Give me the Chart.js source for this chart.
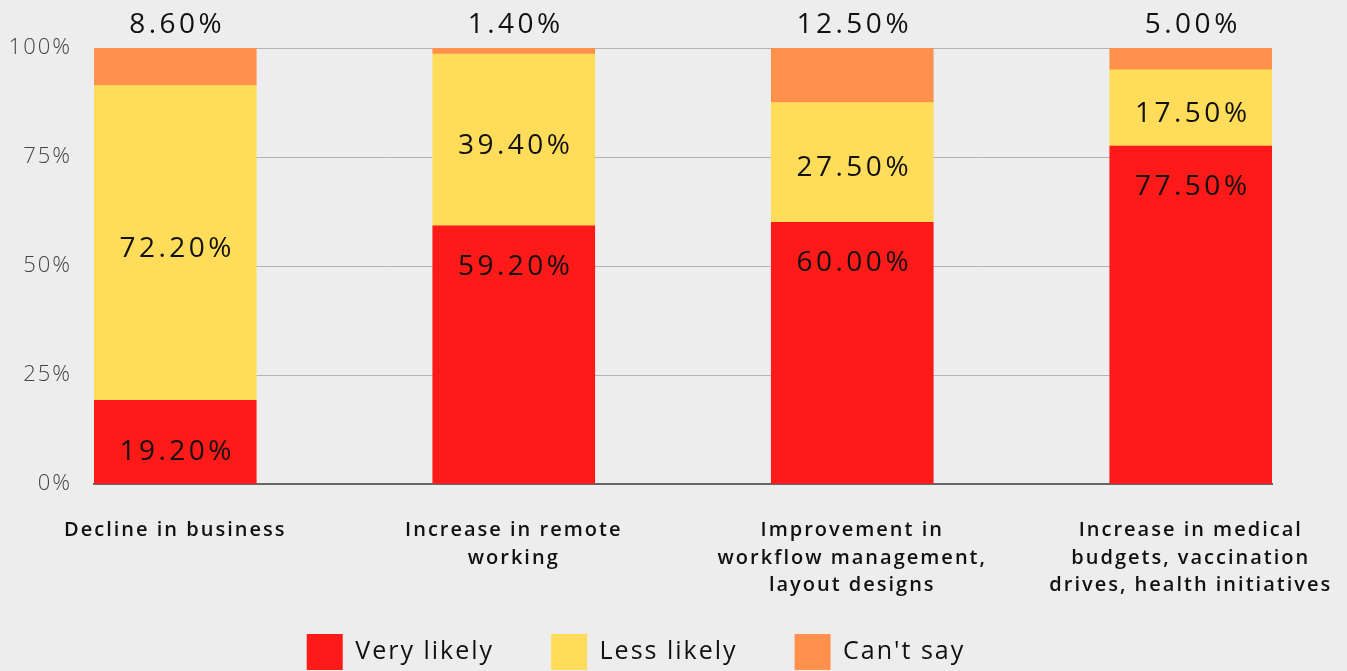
<!DOCTYPE html>
<html>
<head>
<meta charset="utf-8">
<script src="https://cdn.jsdelivr.net/npm/chart.js@4/dist/chart.umd.min.js"></script>
<style>
  html, body { margin: 0; padding: 0; background: #ededed; }
  #wrap { width: 1347px; height: 671px; }
</style>
</head>
<body>
<div id="wrap"><canvas id="c" width="1347" height="671"></canvas></div>
<script>
const categories = [
  ["Decline in business"],
  ["Increase in remote", "working"],
  ["Improvement in", "workflow management,", "layout designs"],
  ["Increase in medical", "budgets, vaccination", "drives, health initiatives"]
];
const seriesNames = ["Very likely", "Less likely", "Can't say"];
const veryLikely = [19.2, 59.2, 60.0, 77.5];
const lessLikely = [72.2, 39.4, 27.5, 17.5];
const cantSay = [8.6, 1.4, 12.5, 5.0];
const yTicks = [0, 25, 50, 75, 100];

const colors = ["#ff1a1a", "#ffdd5a", "#ff914d"];
const FONT = "'Open Sans', Lato, sans-serif";

const toPoints = arr => arr.map((v, i) => ({ x: i, y: v }));

const valueLabels = {
  id: 'valueLabels',
  afterDatasetsDraw(chart) {
    const ctx = chart.ctx;
    ctx.save();
    ctx.font = `400 28px ${FONT}`;
    ctx.letterSpacing = '3.5px';
    ctx.fillStyle = '#111';
    ctx.textAlign = 'center';
    ctx.textBaseline = 'middle';
    chart.data.datasets.forEach((ds, di) => {
      const meta = chart.getDatasetMeta(di);
      meta.data.forEach((el, i) => {
        const { x, y, base } = el.getProps(['x', 'y', 'base'], true);
        const top = Math.min(y, base), bottom = Math.max(y, base);
        const h = bottom - top;
        let ty;
        if (di === 0) ty = h > 120 ? top + 41 : (top + bottom) / 2 + 10;
        else if (di === 1) ty = (top + bottom) / 2 + 6;
        else ty = top - 23;
        const txt = ds.data[i].y.toFixed(2) + '%';
        ctx.fillText(txt, x + 2, ty);
      });
    });
    ctx.restore();
  }
};

const spacing = {
  id: 'spacing',
  beforeLayout(chart) { chart.ctx.letterSpacing = '2px'; },
  beforeDraw(chart) { chart.ctx.letterSpacing = '2px'; }
};

new Chart(document.getElementById('c'), {
  type: 'bar',
  data: {
    datasets: [
      { label: seriesNames[0], data: toPoints(veryLikely), backgroundColor: colors[0] },
      { label: seriesNames[1], data: toPoints(lessLikely), backgroundColor: colors[1] },
      { label: seriesNames[2], data: toPoints(cantSay), backgroundColor: colors[2] }
    ]
  },
  options: {
    responsive: false,
    animation: false,
    layout: { padding: { left: 0, right: 75, top: 48, bottom: -9 } },
    barThickness: 162,
    plugins: {
      legend: {
        position: 'bottom',
        labels: {
          boxWidth: 36, boxHeight: 36,
          padding: 57,
          color: '#111',
          font: { family: FONT, size: 25, weight: '500' }
        }
      },
      tooltip: { enabled: false }
    },
    scales: {
      x: {
        type: 'linear',
        stacked: true,
        offset: false,
        min: -0.24, max: 3.24,
        grid: { display: false, offset: false },
        border: { display: true, color: '#666', width: 2 },
        afterBuildTicks: axis => { axis.ticks = categories.map((_, i) => ({ value: i })); },
        afterFit: axis => {
          axis.height = 93;
          axis.paddingLeft = 0;
          axis.paddingRight = 0;
          axis._computeLabelArea = () => undefined;
        },
        ticks: {
          autoSkip: false, maxRotation: 0, padding: 25,
          color: '#111',
          font: { family: FONT, size: 20, weight: '600', lineHeight: 1.375 },
          callback: v => categories[v]
        }
      },
      y: {
        stacked: true,
        min: 0, max: 100,
        afterBuildTicks: axis => { axis.ticks = yTicks.map(v => ({ value: v })); },
        afterFit: axis => { axis.width = 94; axis.paddingTop = 0; axis.paddingBottom = 0; },
        border: { display: false },
        grid: { color: '#b3b3b3', lineWidth: 1, drawTicks: false },
        ticks: {
          padding: 22,
          color: '#444',
          font: { family: FONT, size: 22, weight: '300' },
          callback: v => v + '%'
        }
      }
    }
  },
  plugins: [spacing, valueLabels]
});
</script>
</body>
</html>
